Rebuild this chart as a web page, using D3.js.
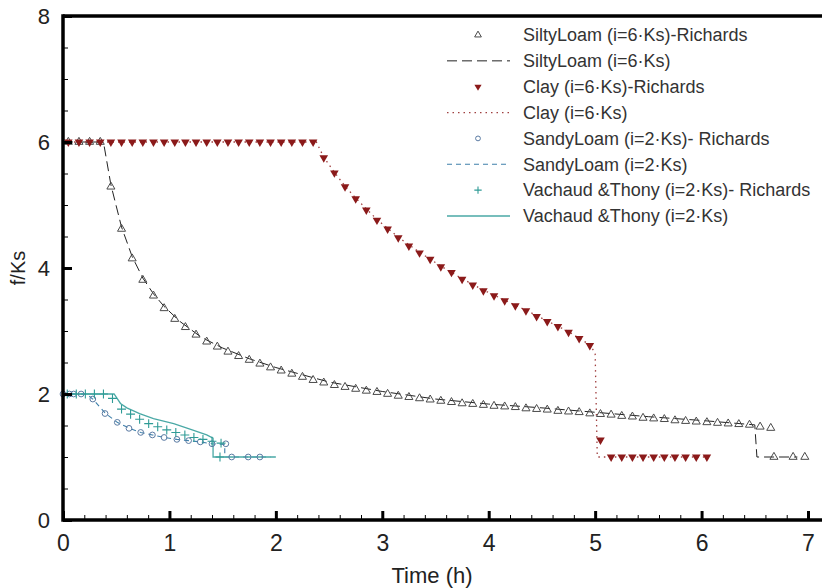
<!DOCTYPE html>
<html lang="en">
<head>
<meta charset="utf-8">
<title>f/Ks vs time</title>
<script src="https://d3js.org/d3.v7.min.js"></script>
<style>
  body { margin: 0; background: #fff; }
  text { font-family: "Liberation Sans", Arial, sans-serif; fill: #333; }
</style>
</head>
<body>
<script>

// ---- data (time in h, f/Ks) ----
var siltyRichards = [
  [0.05,6.0],[0.15,6.0],[0.25,6.0],[0.35,6.0],[0.45,5.29],[0.55,4.62],[0.65,4.15],[0.75,3.81],
  [0.85,3.56],[0.95,3.36],[1.05,3.19],[1.15,3.06],[1.25,2.94],[1.35,2.83],[1.45,2.75],[1.55,2.67],
  [1.65,2.60],[1.75,2.54],[1.85,2.48],[1.95,2.42],[2.05,2.37],[2.15,2.32],[2.25,2.27],[2.35,2.22],
  [2.45,2.18],[2.55,2.14],[2.65,2.11],[2.75,2.08],[2.85,2.05],[2.95,2.03],[3.05,2.00],[3.15,1.97],
  [3.25,1.95],[3.35,1.93],[3.45,1.91],[3.55,1.89],[3.65,1.87],[3.75,1.85],[3.85,1.84],[3.95,1.825],
  [4.05,1.81],[4.15,1.80],[4.25,1.79],[4.35,1.77],[4.45,1.76],[4.55,1.75],[4.65,1.73],[4.75,1.72],
  [4.85,1.71],[4.95,1.69],[5.05,1.68],[5.15,1.67],[5.25,1.65],[5.35,1.64],[5.45,1.62],[5.55,1.61],
  [5.65,1.60],[5.75,1.58],[5.85,1.57],[5.95,1.56],[6.05,1.55],[6.15,1.54],[6.25,1.53],[6.35,1.52],
  [6.45,1.51],[6.55,1.48],[6.65,1.46],[6.68,1.0],[6.86,1.0],[6.97,1.0]
];
var siltyModel = [
  [0,6],[0.38,6],[0.45,5.32],[0.55,4.65],[0.65,4.18],[0.75,3.84],[0.85,3.59],[0.95,3.39],
  [1.1,3.15],[1.3,2.9],[1.5,2.73],[1.75,2.56],[2.0,2.42],[2.5,2.19],[3.0,2.04],[3.5,1.92],
  [4.0,1.84],[4.5,1.78],[5.0,1.71],[5.5,1.64],[6.0,1.58],[6.5,1.51],[6.52,1.0],[6.9,1.0]
];

var clayRichards = [
  [0.05,6],[0.15,6],[0.25,6],[0.35,6],[0.45,6],[0.55,6],[0.65,6],[0.75,6],[0.85,6],[0.95,6],
  [1.05,6],[1.15,6],[1.25,6],[1.35,6],[1.45,6],[1.55,6],[1.65,6],[1.75,6],[1.85,6],[1.95,6],
  [2.05,6],[2.15,6],[2.25,6],[2.35,6],[2.45,5.75],[2.55,5.51],[2.65,5.29],[2.75,5.10],
  [2.85,4.92],[2.95,4.76],[3.05,4.62],[3.15,4.48],[3.25,4.35],[3.35,4.24],[3.45,4.14],[3.55,4.02],
  [3.65,3.93],[3.75,3.82],[3.85,3.73],[3.95,3.64],[4.05,3.56],[4.15,3.48],[4.25,3.40],[4.35,3.32],
  [4.45,3.23],[4.55,3.15],[4.65,3.07],[4.75,2.98],[4.85,2.88],[4.95,2.77],[5.05,1.27],
  [5.15,1.0],[5.25,1.0],[5.35,1.0],[5.45,1.0],[5.55,1.0],[5.65,1.0],[5.75,1.0],[5.85,1.0],
  [5.95,1.0],[6.05,1.0]
];
var clayModel = [
  [0,6],[2.38,6],[2.45,5.76],[2.55,5.52],[2.65,5.30],[2.75,5.11],[2.95,4.77],[3.15,4.49],
  [3.35,4.25],[3.55,4.03],[3.75,3.83],[3.95,3.65],[4.15,3.49],[4.35,3.33],[4.55,3.16],
  [4.75,2.99],[4.95,2.78],[5.0,2.65],[5.02,1.0],[6.05,1.0]
];

var sandyRichards = [
  [0.0,2.0],[0.06,2.0],[0.1,2.0],[0.17,2.0],[0.28,1.92],[0.395,1.69],[0.51,1.55],[0.62,1.455],
  [0.73,1.39],[0.84,1.35],[0.95,1.31],[1.07,1.28],[1.18,1.26],[1.29,1.24],[1.40,1.21],
  [1.53,1.21],[1.585,1.0],[1.74,1.0],[1.85,1.0]
];
var sandyModel = [
  [0,2],[0.22,2],[0.28,1.92],[0.4,1.69],[0.51,1.55],[0.62,1.46],[0.73,1.39],[0.84,1.35],
  [0.95,1.31],[1.07,1.28],[1.18,1.26],[1.29,1.24],[1.40,1.21],[1.52,1.2],[1.52,1.0],[1.95,1.0]
];

var vachaudRichards = [
  [0.04,2.0],[0.125,2.0],[0.21,2.0],[0.295,2.0],[0.38,2.0],[0.465,1.93],[0.55,1.76],[0.635,1.68],
  [0.72,1.60],[0.805,1.53],[0.89,1.48],[0.975,1.43],[1.06,1.39],[1.145,1.35],[1.23,1.31],
  [1.315,1.28],[1.40,1.25],[1.485,1.22],[1.475,1.0]
];
var vachaudModel = [
  [0,2],[0.48,2],[0.54,1.85],[0.6,1.78],[0.72,1.69],[0.85,1.61],[1.04,1.53],[1.2,1.44],
  [1.35,1.35],[1.41,1.30],[1.41,1.0],[2.0,1.0]
];

var xTicks = [0, 1, 2, 3, 4, 5, 6, 7];
var yTicks = [0, 2, 4, 6, 8];
var legendLabels = [
  "SiltyLoam (i=6\u00b7Ks)-Richards",
  "SiltyLoam (i=6\u00b7Ks)",
  "Clay (i=6\u00b7Ks)-Richards",
  "Clay (i=6\u00b7Ks)",
  "SandyLoam (i=2\u00b7Ks)- Richards",
  "SandyLoam (i=2\u00b7Ks)",
  "Vachaud &Thony (i=2\u00b7Ks)- Richards",
  "Vachaud &Thony (i=2\u00b7Ks)"
];

// ---- chart ----
var width = 822, height = 588;

var svg = d3.select("body").append("svg")
    .attr("width", width)
    .attr("height", height);

var x = d3.scaleLinear().domain([0, 7]).range([63, 808]);
var y = d3.scaleLinear().domain([0, 8]).range([520, 16]);

var line = d3.line()
    .x(function(d) { return x(d[0]); })
    .y(function(d) { return y(d[1]); });

var plusType = d3.symbolPlus || d3.symbolCross;

// series styles
var series = [
  { kind: "pts", data: siltyRichards, sym: d3.symbolTriangle, size: 28, rot: 0, fill: "none", stroke: "#4a4a4a", sw: 1 },
  { kind: "line", data: siltyModel, stroke: "#222", dash: "10,5", sw: 1 },
  { kind: "pts", data: clayRichards, sym: d3.symbolTriangle, size: 32, rot: 180, fill: "#8b1a1a", stroke: "none", sw: 0 },
  { kind: "line", data: clayModel, stroke: "#a04040", dash: "1.5,4", sw: 1.3 },
  { kind: "pts", data: sandyRichards, sym: d3.symbolCircle, size: 26, rot: 0, fill: "none", stroke: "#5b7ba3", sw: 1 },
  { kind: "line", data: sandyModel, stroke: "#3f80ab", dash: "5,4", sw: 1.1 },
  { kind: "pts", data: vachaudRichards, sym: plusType, size: 28, rot: 0, fill: "none", stroke: "#2f9b96", sw: 1.1 },
  { kind: "line", data: vachaudModel, stroke: "#4aa9a6", dash: null, sw: 1.3 }
];

// lines first, markers on top
var plot = svg.append("g");
series.filter(function(s) { return s.kind === "line"; }).forEach(function(s) {
  plot.append("path")
      .datum(s.data)
      .attr("fill", "none")
      .attr("stroke", s.stroke)
      .attr("stroke-width", s.sw)
      .attr("stroke-dasharray", s.dash)
      .attr("d", line);
});
series.filter(function(s) { return s.kind === "pts"; }).forEach(function(s) {
  plot.append("g").selectAll("path")
      .data(s.data)
      .enter().append("path")
      .attr("transform", function(d) {
        return "translate(" + x(d[0]) + "," + y(d[1]) + ") rotate(" + s.rot + ")";
      })
      .attr("d", d3.symbol().type(s.sym).size(s.size))
      .attr("fill", s.fill)
      .attr("stroke", s.stroke)
      .attr("stroke-width", s.sw);
});

// axes: major + minor ticks pointing inward
var xMinor = d3.range(0, 7.21, 0.2).filter(function(v) { return Math.abs(v - Math.round(v)) > 1e-6; });
var yMinor = d3.range(0, 8.01, 0.5).filter(function(v) { return Math.abs(v / 2 - Math.round(v / 2)) > 1e-6; });

var gxMinor = svg.append("g")
    .attr("transform", "translate(0," + y(0) + ")")
    .call(d3.axisBottom(x).tickValues(xMinor).tickSize(-5).tickFormat(""));
var gx = svg.append("g")
    .attr("transform", "translate(0," + y(0) + ")")
    .call(d3.axisBottom(x).tickValues(xTicks).tickSize(-9).tickPadding(15).tickFormat(d3.format("d")));

var gyMinor = svg.append("g")
    .attr("transform", "translate(" + x(0) + ",0)")
    .call(d3.axisLeft(y).tickValues(yMinor).tickSize(-5).tickFormat(""));
var gy = svg.append("g")
    .attr("transform", "translate(" + x(0) + ",0)")
    .call(d3.axisLeft(y).tickValues(yTicks).tickSize(-9).tickPadding(13).tickFormat(d3.format("d")));

[gxMinor, gx, gyMinor, gy].forEach(function(g) { g.select(".domain").remove(); });
gxMinor.selectAll("line").attr("stroke", "#000").attr("stroke-width", 1);
gyMinor.selectAll("line").attr("stroke", "#000").attr("stroke-width", 1);
gx.selectAll("line").attr("stroke", "#000").attr("stroke-width", 3);
gy.selectAll("line").attr("stroke", "#000").attr("stroke-width", 3);

gx.selectAll("text")
    .style("font-family", "'Liberation Sans Narrow', 'Liberation Sans', Arial, sans-serif")
    .attr("font-size", 23)
    .style("fill", "#222");
gy.selectAll("text")
    .attr("font-size", 22)
    .style("fill", "#222");

// frame
var frame = svg.append("g")
    .attr("fill", "none")
    .attr("stroke", "#000")
    .attr("stroke-width", 3.5);
frame.append("line").attr("x1", x(0)).attr("x2", x(7.3)).attr("y1", y(0)).attr("y2", y(0));
frame.append("line").attr("x1", x(0)).attr("x2", x(7.3)).attr("y1", y(8)).attr("y2", y(8));
frame.append("line").attr("x1", x(0)).attr("x2", x(0)).attr("y1", y(0) + 1.75).attr("y2", y(8) - 1.75);

// axis titles
svg.append("text")
    .attr("x", 432)
    .attr("y", 583)
    .attr("text-anchor", "middle")
    .style("font-family", "'Liberation Sans Narrow', 'Liberation Sans', Arial, sans-serif")
    .attr("font-size", 22)
    .style("fill", "#222")
    .text("Time (h)");

svg.append("text")
    .attr("transform", "translate(25," + y(4) + ") rotate(-90)")
    .attr("text-anchor", "middle")
    .attr("font-size", 20)
    .style("fill", "#222")
    .text("f/Ks");

// legend
var ly = d3.scaleLinear().domain([0, 7]).range([35, 216]);
var legend = svg.append("g");
series.forEach(function(s, i) {
  var row = legend.append("g").attr("transform", "translate(0," + ly(i) + ")");
  if (s.kind === "line") {
    row.append("line")
        .attr("x1", 447).attr("x2", 510)
        .attr("stroke", s.stroke)
        .attr("stroke-width", s.sw)
        .attr("stroke-dasharray", s.dash);
  } else {
    row.append("path")
        .attr("transform", "translate(478,0) rotate(" + s.rot + ")")
        .attr("d", d3.symbol().type(s.sym).size(s.size * 0.7))
        .attr("fill", s.fill)
        .attr("stroke", s.stroke)
        .attr("stroke-width", s.sw);
  }
  row.append("text")
      .attr("x", 523)
      .attr("dy", "0.35em")
      .attr("font-size", 18)
      .text(legendLabels[i]);
});

</script>
</body>
</html>
